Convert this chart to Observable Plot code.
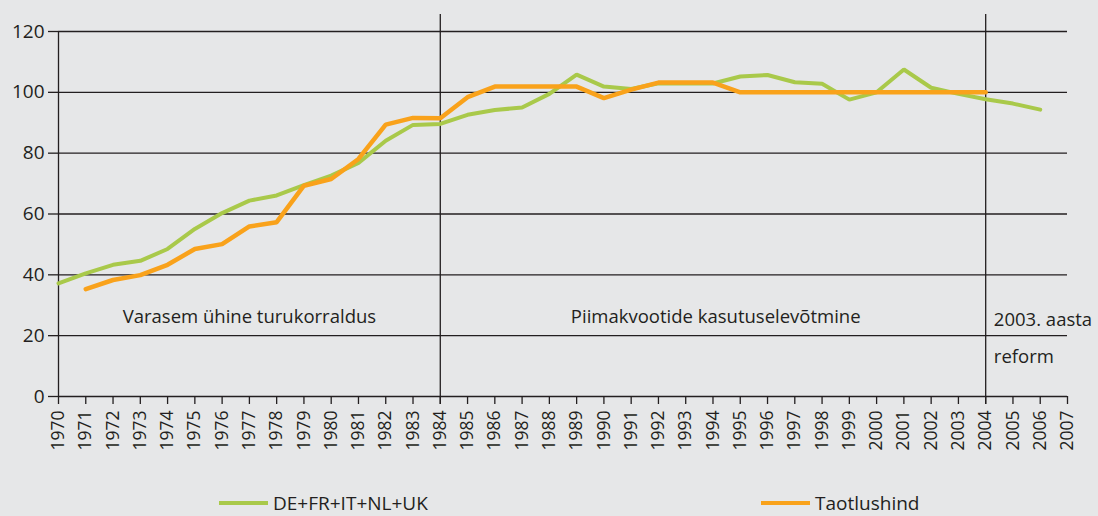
<!DOCTYPE html>
<html>
<head>
<meta charset="utf-8">
<script src="https://cdn.jsdelivr.net/npm/d3@7"></script>
<script src="https://cdn.jsdelivr.net/npm/@observablehq/plot@0.6"></script>
<style>
  html, body { margin: 0; padding: 0; background: #e6e7e8; }
  body { width: 1098px; height: 516px; overflow: hidden; font-family: "Open Sans", sans-serif; color: #231f20; }
  #chart svg { display: block; background: #e6e7e8; }
  #legend { position: relative; height: 46px; font-size: 19px; }
  .item { position: absolute; top: 0; display: flex; align-items: center; height: 30px; }
  .sw { width: 49px; height: 4px; margin-right: 5px; }
</style>
</head>
<body>
<div id="chart"></div>
<div id="legend"></div>
<script>
const years = d3.range(1970, 2008);
const greenYears = d3.range(1970, 2007);
const greenValues = [37.2, 40.5, 43.3, 44.6, 48.5, 55.1, 60.3, 64.4, 66.1, 69.5, 72.6, 76.8, 84.1, 89.3, 89.6,
  92.6, 94.2, 95.0, 99.5, 105.8, 101.9, 101.1, 103.0, 102.9, 102.9, 105.2, 105.7, 103.3, 102.8, 97.6, 100.0,
  107.5, 101.5, 99.5, 97.7, 96.3, 94.3];
const orangeYears = d3.range(1971, 2005);
const orangeValues = [35.3, 38.3, 39.9, 43.3, 48.5, 50.1, 55.9, 57.3, 69.3, 71.5, 78.1, 89.4, 91.6, 91.5,
  98.4, 101.9, 101.9, 101.9, 101.9, 98.1, 100.9, 103.2, 103.2, 103.2, 100, 100, 100, 100, 100, 100, 100, 100, 100, 100];
const seriesNames = ["DE+FR+IT+NL+UK", "Taotlushind"];
const seriesColors = ["#a9c94a", "#f9a21b"];
const yTicks = [0, 20, 40, 60, 80, 100, 120];
const periodYears = [1984, 2004];
const periodLabels = [
  {x: 1977.0, y: 26, text: "Varasem ühine turukorraldus"},
  {x: 1994.1, y: 26, text: "Piimakvootide kasutuselevõtmine"}
];
const reformLabels = [
  {x: 2004.3, y: 25, text: "2003. aasta"},
  {x: 2004.3, y: 13, text: "reform"}
];

const green = greenYears.map((y, i) => ({year: y, value: greenValues[i]}));
const orange = orangeYears.map((y, i) => ({year: y, value: orangeValues[i]}));
const ink = "#231f20";

const chart = Plot.plot({
  width: 1098,
  height: 470,
  marginLeft: 58,
  marginRight: 31,
  marginTop: 31,
  marginBottom: 74,
  style: {background: "#e6e7e8", fontFamily: "Open Sans, sans-serif", color: ink},
  x: {domain: [1970, 2007], axis: null},
  y: {domain: [0, 120], axis: null},
  marks: [
    Plot.ruleY(yTicks, {stroke: ink, strokeWidth: 1.3, x1: 1970, x2: 2007}),
    Plot.ruleX([1970], {y1: 0, y2: 120, stroke: ink, strokeWidth: 1.3}),
    Plot.ruleX(periodYears, {y1: -2.6, y2: 125.6, stroke: ink, strokeWidth: 1.3}),
    Plot.axisY({ticks: yTicks, tickSize: 10, tickPadding: 4, fontSize: 19, stroke: ink, strokeWidth: 1.3}),
    Plot.axisX({ticks: years, tickFormat: d => String(d), tickSize: 8, tickPadding: 6, tickRotate: -90, fontSize: 17.5, stroke: ink, strokeWidth: 1.3}),
    Plot.line(green, {x: "year", y: "value", stroke: seriesColors[0], strokeWidth: 4, strokeLinejoin: "miter"}),
    Plot.line(orange, {x: "year", y: "value", stroke: seriesColors[1], strokeWidth: 4.5, strokeLinejoin: "miter"}),
    Plot.text(periodLabels, {x: "x", y: "y", text: "text", textAnchor: "middle", fontSize: 18.5, fill: ink}),
    Plot.text(reformLabels, {x: "x", y: "y", text: "text", textAnchor: "start", fontSize: 18.5, fill: ink})
  ]
});
document.getElementById("chart").appendChild(chart);

const legend = document.getElementById("legend");
const legendLeft = [219, 761];
seriesNames.forEach((name, i) => {
  const it = document.createElement("div");
  it.className = "item";
  it.style.left = legendLeft[i] + "px";
  it.style.top = "18px";
  const sw = document.createElement("span");
  sw.className = "sw";
  sw.style.background = seriesColors[i];
  const t = document.createElement("span");
  t.textContent = name;
  it.appendChild(sw); it.appendChild(t);
  legend.appendChild(it);
});
</script>
</body>
</html>
